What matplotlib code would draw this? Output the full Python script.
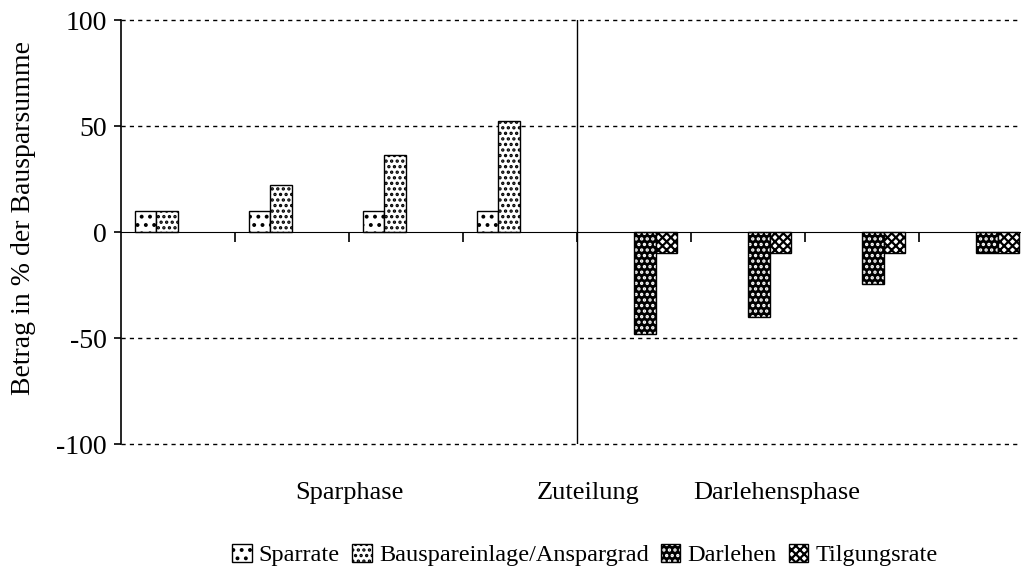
import numpy as np
import matplotlib.pyplot as plt
import matplotlib.transforms as mtransforms
from matplotlib.patches import Patch
from matplotlib.legend_handler import HandlerTuple

plt.rcParams['font.family'] = ['Liberation Serif', 'DejaVu Serif']
plt.rcParams['axes.unicode_minus'] = False
plt.rcParams['hatch.linewidth'] = 1.6

# Werte je Periode (8 Perioden: 4 Sparphase, 4 Darlehensphase)
sparrate = [10, 10, 10, 10, 0, 0, 0, 0]
bausparanlage = [10, 22, 36.5, 52.5, 0, 0, 0, 0]
darlehen = [0, 0, 0, 0, -48, -40, -24.5, -10]
tilgungsrate = [0, 0, 0, 0, -10, -10, -10, -10]
series_names = ['Sparrate', 'Bauspareinlage/Anspargrad', 'Darlehen', 'Tilgungsrate']
phase_labels = ['Sparphase', 'Zuteilung', 'Darlehensphase']
phase_pos = [1.5, 3.6, 5.25]
yticks = [-100, -50, 0, 50, 100]

fig = plt.figure(figsize=(10.21, 5.68), dpi=100)
ax = fig.add_axes([121 / 1021, 1 - 444 / 568, (1033 - 121) / 1021, 424 / 568])

x = np.arange(len(sparrate))
w = 0.19
ek = dict(edgecolor='black', linewidth=1.0)

def masked(vals):
    return [v if v != 0 else np.nan for v in vals]

ax.bar(x - 1.5 * w, masked(sparrate), w, facecolor='white', hatch='..', **ek)
ax.bar(x - 0.5 * w, masked(bausparanlage), w, facecolor='white', hatch='...', **ek)
# Darlehen: schwarz mit weißem Muster, Rand separat
ax.bar(x + 0.5 * w, masked(darlehen), w, facecolor='black', edgecolor='white',
       hatch='...', linewidth=0)
ax.bar(x + 0.5 * w, masked(darlehen), w, facecolor='none', **ek)
ax.bar(x + 1.5 * w, masked(tilgungsrate), w, facecolor='white', hatch='xxxx', **ek)

ax.set_xlim(-0.5, 7.5)
ax.set_ylim(-100, 100)

for yv in [100, 50, -50, -100]:
    ax.axhline(yv, color='black', lw=1.0, ls=(0, (3, 3)), zorder=0, clip_on=False)
ax.axvline(3.5, color='black', lw=1.0)

for s in ['top', 'right']:
    ax.spines[s].set_visible(False)
ax.spines['bottom'].set_position(('data', 0))
ax.spines['left'].set_linewidth(1.2)

ax.set_xticks(np.arange(0.5, 7.5, 1))
ax.set_xticklabels([])
ax.tick_params(axis='x', direction='out', length=7, width=1.2)
ax.set_yticks(yticks)
ax.tick_params(axis='y', direction='out', length=5, width=1.2, labelsize=20, pad=5)
ax.set_ylabel('Betrag in % der Bausparsumme', fontsize=20)
ax.yaxis.set_label_coords(-0.093, 0.533)

trans = mtransforms.blended_transform_factory(ax.transData, fig.transFigure)
for lab, px in zip(phase_labels, phase_pos):
    ax.text(px, 0.132, lab, transform=trans, ha='center', va='center', fontsize=19)

h1 = Patch(facecolor='white', hatch='..', edgecolor='black')
h2 = Patch(facecolor='white', hatch='...', edgecolor='black')
h3a = Patch(facecolor='black', hatch='...', edgecolor='white', linewidth=0)
h3b = Patch(facecolor='none', edgecolor='black')
h4 = Patch(facecolor='white', hatch='xxxx', edgecolor='black')
fig.legend([h1, h2, (h3a, h3b), h4], series_names,
           handler_map={tuple: HandlerTuple(ndivide=1)},
           loc='center', bbox_to_anchor=(585 / 1021, 1 - 555 / 568), ncol=4,
           frameon=False, fontsize=17.5, handlelength=0.8, handleheight=0.8,
           handletextpad=0.3, columnspacing=0.5)

fig.savefig('out.png', dpi=100)
